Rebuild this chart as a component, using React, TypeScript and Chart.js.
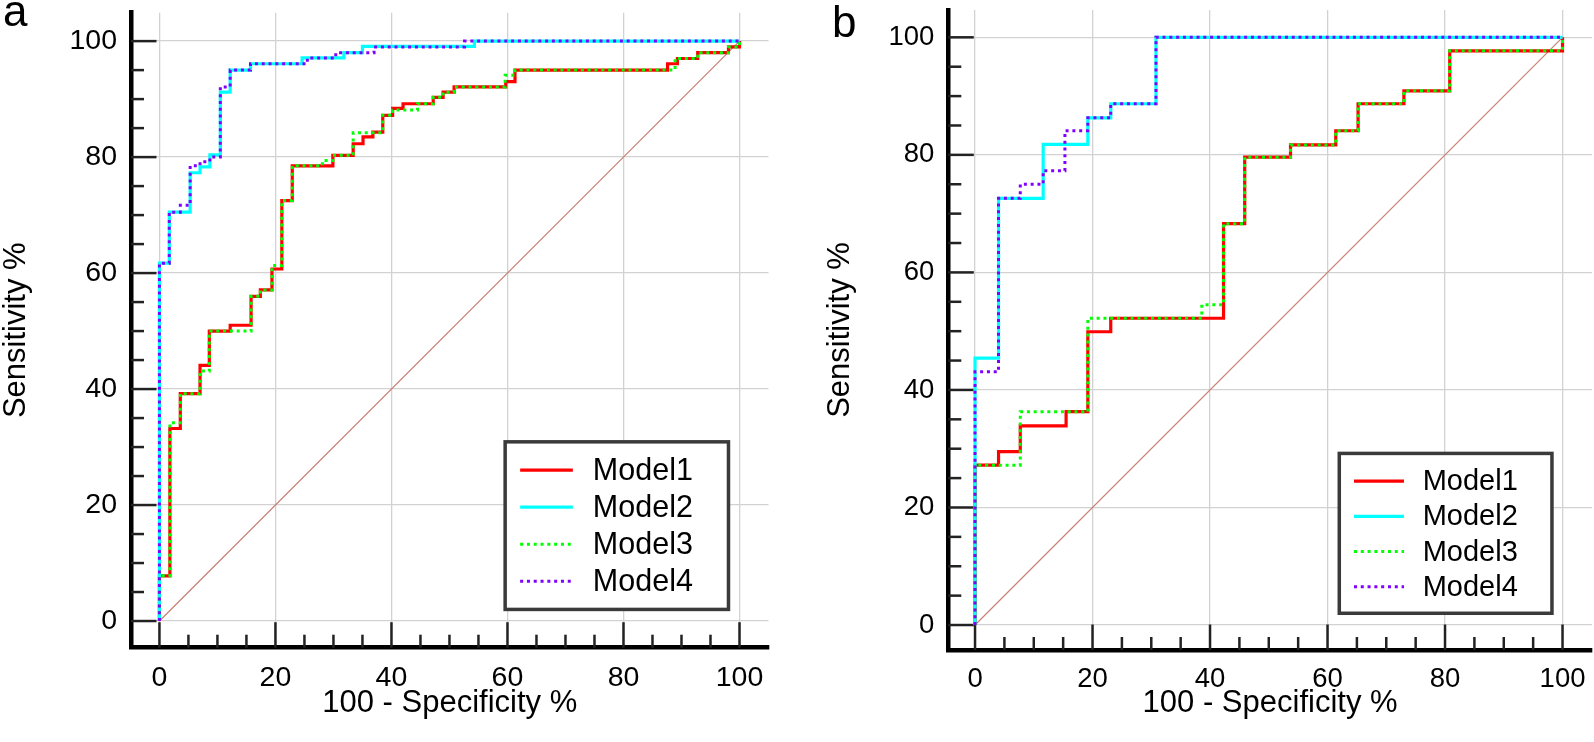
import React, { useEffect, useRef } from 'react';
import { Chart, registerables } from 'chart.js';

Chart.register(...registerables);

// ---------- data ----------
const MODEL_NAMES = ['Model1', 'Model2', 'Model3', 'Model4'];
const AXIS_TICKS = [0, 20, 40, 60, 80, 100];
const MINOR_STEP = 5;
const X_TITLE = '100 - Specificity %';
const Y_TITLE = 'Sensitivity %';
const DIAG_X = [0, 100];
const DIAG_Y = [0, 100];

// Panel a  (100 - specificity, sensitivity)
const aM1x = [0, 0, 1.8, 3.6, 7.0, 8.6, 12.2, 15.8, 17.4, 19.4, 21.1, 22.9, 29.9, 33.4, 35.1, 36.8, 38.5, 40.2, 42.0, 47.2, 48.9, 50.8, 59.7, 61.3, 87.6, 89.3, 92.8, 98.1, 100];
const aM1y = [0, 7.8, 33.2, 39.2, 44.1, 50.0, 51.0, 56.0, 57.1, 60.7, 72.5, 78.5, 80.3, 82.3, 83.5, 84.3, 87.2, 88.4, 89.2, 90.3, 91.2, 92.1, 93.0, 95.0, 96.1, 97.0, 98.0, 99.0, 100];
const aM2x = [0, 0, 1.7, 5.3, 7.0, 8.7, 10.5, 12.2, 15.7, 24.6, 31.8, 35.0, 54.3, 100];
const aM2y = [0, 61.7, 70.5, 77.3, 78.3, 80.4, 91.2, 95.0, 96.1, 97.1, 98.0, 99.1, 100, 100];
const aM3x = [0, 0, 1.8, 3.6, 7.0, 8.6, 15.8, 17.4, 19.4, 21.1, 22.9, 28.1, 29.9, 33.4, 38.5, 40.2, 44.5, 47.2, 48.9, 50.8, 59.6, 61.3, 88.9, 92.8, 98.1, 100];
const aM3y = [0, 7.8, 34.2, 39.2, 43.1, 50.0, 56.0, 57.1, 61.3, 72.5, 78.5, 79.4, 80.3, 84.2, 87.2, 88.1, 89.2, 90.3, 91.2, 92.1, 94.1, 95.0, 97.0, 98.0, 99.0, 100];
const aM4x = [0, 0, 1.7, 3.6, 5.3, 7.0, 8.7, 10.5, 12.2, 15.7, 25.5, 30.4, 37.0, 52.6, 100];
const aM4y = [0, 61.7, 70.5, 71.7, 78.5, 79.2, 80.0, 92.1, 95.0, 96.1, 97.1, 98.0, 99.0, 100, 100];

// Panel b
const bM1x = [0, 0, 4.0, 7.7, 15.5, 19.2, 23.1, 42.3, 45.9, 53.7, 61.4, 65.2, 73.0, 80.8, 100];
const bM1y = [0, 27.2, 29.5, 33.9, 36.3, 49.9, 52.2, 68.3, 79.6, 81.7, 84.1, 88.7, 90.9, 97.7, 100];
const bM2x = [0, 0, 4.0, 11.6, 19.2, 23.1, 30.8, 100];
const bM2y = [0, 45.4, 72.6, 81.8, 86.3, 88.7, 100, 100];
const bM3x = [0, 0, 7.7, 19.2, 38.6, 42.3, 45.9, 53.7, 61.4, 65.2, 73.0, 80.8, 100];
const bM3y = [0, 27.2, 36.3, 52.2, 54.5, 68.3, 79.6, 81.7, 84.1, 88.7, 90.9, 97.7, 100];
const bM4x = [0, 0, 4.0, 7.7, 11.6, 15.3, 19.2, 23.1, 30.8, 100];
const bM4y = [0, 43.1, 72.6, 75.0, 77.3, 84.1, 86.3, 88.7, 100, 100];

// ---------- styles ----------
const FONT = "'Liberation Sans', Arial, sans-serif";
const SERIES_STYLE = [
  { color: '#ff0000', dash: [] as number[], width: 3.2, order: 4 },
  { color: '#00ffff', dash: [] as number[], width: 3.2, order: 3 },
  { color: '#00ff00', dash: [3, 3.8], width: 3, order: 2 },
  { color: '#8000ff', dash: [3, 3.8], width: 3, order: 1 },
];
const DIAG_COLOR = 'rgb(200,128,118)';
const GRID_COLOR = '#d2d2d2';
const TICK_COLOR = '#222222';
const CANVAS_H = 742;

type PanelCfg = {
  label: string;
  labelX: number;
  labelY: number;
  left: number;
  width: number;
  area: { top: number; bottom: number; left: number; right: number };
  xRange: [number, number];
  yRange: [number, number];
  tickFont: number;
  legend: { x0: number; x1: number; yTop: number; yBottom: number; lineStart: number; lineLen: number; textX: number; firstRow: number; rowGap: number; font: number };
  series: [number[], number[]][];
};

const PANELS: PanelCfg[] = [
  {
    label: 'a', labelX: 3, labelY: 26,
    left: 0, width: 800,
    area: { top: 12.7, bottom: 647.7, left: 131, right: 768.5 },
    xRange: [-4.9, 105], yRange: [-4.6, 104.9],
    tickFont: 28.5,
    legend: { x0: 59.6, x1: 98.1, yTop: 30.9, yBottom: 2.0, lineStart: 15, lineLen: 52.7, textX: 87.7, firstRow: 28.3, rowGap: 37, font: 30.5 },
    series: [[aM1x, aM1y], [aM2x, aM2y], [aM3x, aM3y], [aM4x, aM4y]],
  },
  {
    label: 'b', labelX: 8, labelY: 37,
    left: 824, width: 770,
    area: { top: 10, bottom: 650, left: 124.3, right: 767.9 },
    xRange: [-4.55, 105], yRange: [-4.25, 104.65],
    tickFont: 27.5,
    legend: { x0: 62.0, x1: 98.2, yTop: 29.2, yBottom: 2.0, lineStart: 14.7, lineLen: 50, textX: 83.4, firstRow: 27.7, rowGap: 35.2, font: 29 },
    series: [[bM1x, bM1y], [bM2x, bM2y], [bM3x, bM3y], [bM4x, bM4y]],
  },
];

function Panel({ cfg }: { cfg: PanelCfg }) {
  const ref = useRef<HTMLCanvasElement | null>(null);

  useEffect(() => {
    const canvas = ref.current;
    if (!canvas) return;

    const innerTicks = {
      id: 'innerTicks',
      beforeDatasetsDraw(chart: any) {
        const { ctx, chartArea } = chart;
        const xs = chart.scales.x;
        const ys = chart.scales.y;
        ctx.save();
        ctx.strokeStyle = TICK_COLOR;
        ctx.lineWidth = 2.5;
        const first = AXIS_TICKS[0];
        const last = AXIS_TICKS[AXIS_TICKS.length - 1];
        for (let v = first; v <= last; v += MINOR_STEP) {
          const major = AXIS_TICKS.includes(v);
          const len = major ? 25.5 : 13;
          const py = ys.getPixelForValue(v);
          ctx.beginPath();
          ctx.moveTo(chartArea.left, py);
          ctx.lineTo(chartArea.left + len, py);
          ctx.stroke();
          const px = xs.getPixelForValue(v);
          ctx.beginPath();
          ctx.moveTo(px, chartArea.bottom);
          ctx.lineTo(px, chartArea.bottom - len);
          ctx.stroke();
        }
        ctx.restore();
      },
    };

    const legendBox = {
      id: 'legendBox',
      afterDatasetsDraw(chart: any) {
        const { ctx } = chart;
        const xs = chart.scales.x;
        const ys = chart.scales.y;
        const L = cfg.legend;
        const bx0 = xs.getPixelForValue(L.x0);
        const bx1 = xs.getPixelForValue(L.x1);
        const by0 = ys.getPixelForValue(L.yTop);
        const by1 = ys.getPixelForValue(L.yBottom);
        ctx.save();
        ctx.fillStyle = '#ffffff';
        ctx.fillRect(bx0, by0, bx1 - bx0, by1 - by0);
        ctx.strokeStyle = '#3a3a3a';
        ctx.lineWidth = 3.5;
        ctx.strokeRect(bx0, by0, bx1 - bx0, by1 - by0);
        MODEL_NAMES.forEach((name, i) => {
          const st = SERIES_STYLE[i];
          const ry = by0 + L.firstRow + i * L.rowGap;
          ctx.beginPath();
          ctx.setLineDash(st.dash);
          ctx.strokeStyle = st.color;
          ctx.lineWidth = st.width;
          ctx.moveTo(bx0 + L.lineStart, ry);
          ctx.lineTo(bx0 + L.lineStart + L.lineLen, ry);
          ctx.stroke();
          ctx.setLineDash([]);
          ctx.fillStyle = '#000000';
          ctx.font = `${L.font}px ${FONT}`;
          ctx.textAlign = 'left';
          ctx.textBaseline = 'middle';
          ctx.fillText(name, bx0 + L.textX, ry + 1);
        });
        ctx.restore();
      },
    };

    const panelLabel = {
      id: 'panelLabel',
      afterDraw(chart: any) {
        const { ctx } = chart;
        ctx.save();
        ctx.fillStyle = '#000000';
        ctx.font = `44px ${FONT}`;
        ctx.textAlign = 'left';
        ctx.textBaseline = 'alphabetic';
        ctx.fillText(cfg.label, cfg.labelX, cfg.labelY);
        ctx.restore();
      },
    };

    const datasets: any[] = cfg.series.map(([xs, ys], i) => {
      const st = SERIES_STYLE[i];
      return {
        label: MODEL_NAMES[i],
        data: xs.map((x, k) => ({ x, y: ys[k] })),
        borderColor: st.color,
        backgroundColor: st.color,
        borderWidth: st.width,
        borderDash: st.dash,
        stepped: 'before',
        pointRadius: 0,
        fill: false,
        order: st.order,
      };
    });
    datasets.push({
      label: 'Reference',
      data: DIAG_X.map((x, k) => ({ x, y: DIAG_Y[k] })),
      borderColor: DIAG_COLOR,
      borderWidth: 1.2,
      pointRadius: 0,
      fill: false,
      order: 10,
    });

    const area = cfg.area;
    const tickFont = { family: FONT, size: cfg.tickFont };
    const titleFont = { family: FONT, size: 31, lineHeight: 1 };

    const chart = new Chart(canvas, {
      type: 'line',
      data: { datasets },
      options: {
        animation: false,
        responsive: false,
        devicePixelRatio: 1,
        layout: { padding: { left: 0, top: area.top, right: cfg.width - area.right, bottom: 0 } },
        plugins: { legend: { display: false }, tooltip: { enabled: false } },
        scales: {
          x: {
            type: 'linear',
            min: cfg.xRange[0],
            max: cfg.xRange[1],
            afterBuildTicks: (s: any) => { s.ticks = AXIS_TICKS.map((v) => ({ value: v })); },
            afterFit: (s: any) => {
              s.height = CANVAS_H - area.bottom;
              s.paddingLeft = 0;
              s.paddingRight = 0;
            },
            grid: { color: GRID_COLOR, lineWidth: 1.3, drawTicks: false },
            border: { display: true, color: '#000000', width: 4.5 },
            ticks: { padding: 13, color: '#000000', font: tickFont, maxRotation: 0, autoSkip: false },
            title: { display: true, text: X_TITLE, color: '#000000', font: titleFont, padding: { top: 0, bottom: 23 } },
          },
          y: {
            type: 'linear',
            min: cfg.yRange[0],
            max: cfg.yRange[1],
            afterBuildTicks: (s: any) => { s.ticks = AXIS_TICKS.map((v) => ({ value: v })); },
            afterFit: (s: any) => {
              s.width = area.left;
              s.paddingTop = 0;
              s.paddingBottom = 0;
            },
            grid: { color: GRID_COLOR, lineWidth: 1.3, drawTicks: false },
            border: { display: true, color: '#000000', width: 4.5 },
            ticks: { padding: 14, color: '#000000', font: tickFont, autoSkip: false },
            title: { display: true, text: Y_TITLE, color: '#000000', font: titleFont, padding: { top: 1, bottom: 0 } },
          },
        },
      } as any,
      plugins: [innerTicks, legendBox, panelLabel],
    });

    return () => chart.destroy();
  }, [cfg]);

  return (
    <div style={{ position: 'absolute', left: cfg.left, top: 0, width: cfg.width, height: CANVAS_H }}>
      <canvas ref={ref} width={cfg.width} height={CANVAS_H} style={{ display: 'block', width: cfg.width, height: CANVAS_H }} />
    </div>
  );
}

export default function App() {
  return (
    <div style={{ position: 'absolute', left: 0, top: 0, width: 1594, height: CANVAS_H, background: '#ffffff', overflow: 'hidden' }}>
      {PANELS.map((p) => (
        <Panel key={p.label} cfg={p} />
      ))}
    </div>
  );
}
